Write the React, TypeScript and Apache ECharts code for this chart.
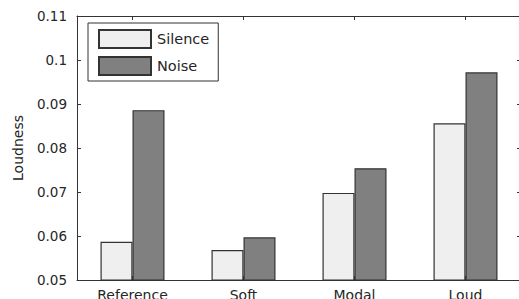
import React, { useEffect, useRef } from "react";
import * as echarts from "echarts";

const categories = ["Reference", "Soft", "Modal", "Loud"];
const silence = [0.0587, 0.0568, 0.0698, 0.0856];
const noise = [0.0886, 0.0597, 0.0754, 0.0972];
const seriesNames = ["Silence", "Noise"];
const yMin = 0.05;
const yMax = 0.11;
const yStep = 0.01;

const FONT = "DejaVu Sans";
const AXIS = "#333333";
const TEXT = "#262626";

export default function App() {
  const ref = useRef<HTMLDivElement>(null);
  useEffect(() => {
    if (!ref.current) return;
    const chart = echarts.init(ref.current, null, { renderer: "svg" });
    const fmt = (v: number) => parseFloat(v.toFixed(2)).toString();
    const yBase = {
      type: "value" as const,
      min: yMin,
      max: yMax,
      interval: yStep,
      splitLine: { show: false },
      axisLine: { show: true, lineStyle: { color: AXIS, width: 1 } },
      axisTick: { show: true, inside: true, length: 4, lineStyle: { color: AXIS } },
    };
    const xBase = {
      type: "category" as const,
      data: categories,
      axisLine: { show: true, onZero: false, lineStyle: { color: AXIS, width: 1 } },
      axisTick: { show: true, inside: true, alignWithLabel: true, length: 4, lineStyle: { color: AXIS } },
    };
    chart.setOption({
      animation: false,
      grid: { left: 77, top: 16, bottom: 19, width: 444, containLabel: false, outerBoundsMode: "none" },
      legend: {
        show: true,
        orient: "vertical",
        left: 88,
        top: 23,
        itemWidth: 52,
        itemHeight: 18,
        itemGap: 7,
        padding: [6, 9, 5, 10],
        backgroundColor: "#ffffff",
        borderColor: AXIS,
        borderWidth: 1,
        borderRadius: 0,
        icon: "rect",
        data: seriesNames,
        textStyle: { fontFamily: FONT, fontSize: 14.5, color: TEXT, padding: [0, 0, 0, 1] },
      },
      xAxis: [
        {
          ...xBase,
          position: "bottom",
          axisLabel: { fontFamily: FONT, fontSize: 14, color: TEXT, margin: 8 },
        },
        {
          ...xBase,
          position: "top",
          axisLabel: { show: false },
        },
      ],
      yAxis: [
        {
          ...yBase,
          position: "left",
          name: "Loudness",
          nameLocation: "middle",
          nameRotate: 90,
          nameGap: 52,
          nameTextStyle: { fontFamily: FONT, fontSize: 14, color: TEXT },
          axisLabel: { fontFamily: FONT, fontSize: 13.5, color: TEXT, margin: 10, formatter: fmt },
        },
        {
          ...yBase,
          position: "right",
          axisLabel: { show: false },
        },
      ],
      series: [
        {
          name: seriesNames[0],
          type: "bar",
          data: silence,
          barWidth: 32,
          barGap: "0%",
          itemStyle: { color: "#efefef", borderColor: AXIS, borderWidth: 1.2 },
        },
        {
          name: seriesNames[1],
          type: "bar",
          data: noise,
          barWidth: 32,
          barGap: "0%",
          itemStyle: { color: "#808080", borderColor: AXIS, borderWidth: 1.2 },
        },
      ],
    });
    return () => chart.dispose();
  }, []);
  return <div ref={ref} style={{ width: 519, height: 299, position: "absolute", left: 0, top: 0 }} />;
}
